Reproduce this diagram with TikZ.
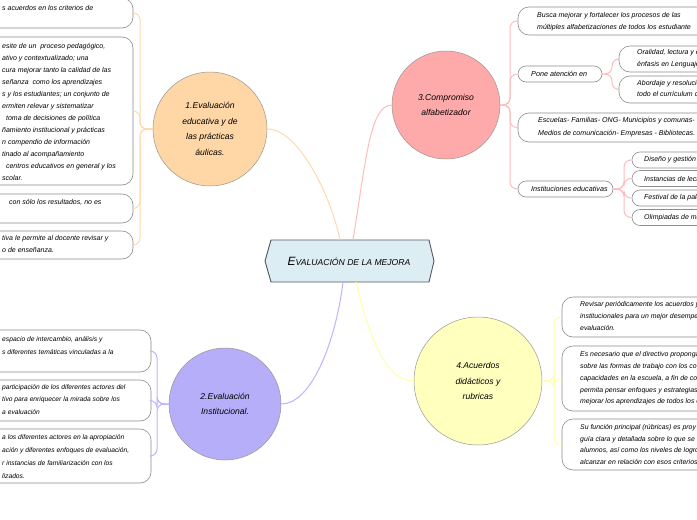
\documentclass[tikz,border=0pt]{standalone}
\usepackage{fontspec}
\setmainfont{Liberation Sans}
\definecolor{boxgray}{HTML}{8C8C8C}
\definecolor{circgray}{HTML}{9A9490}
\definecolor{orfill}{HTML}{FFD7A6}
\definecolor{orline}{HTML}{FFD9AE}
\definecolor{pkfill}{HTML}{FFAAAA}
\definecolor{pkline}{HTML}{FFBCBC}
\definecolor{pufill}{HTML}{B6AEF8}
\definecolor{puline}{HTML}{BDB4FF}
\definecolor{yefill}{HTML}{FFFFBE}
\definecolor{yeline}{HTML}{FFFFA6}
\definecolor{hexfill}{HTML}{DDEDF4}
\definecolor{hexline}{HTML}{555A5C}
\newcommand{\fs}[2]{\fontsize{#1}{#2}\selectfont\itshape}
\begin{document}
\begin{tikzpicture}[x=1pt,y=-1pt,
  box/.style={draw=boxgray, fill=white, rounded corners=11pt, line width=0.6pt, inner sep=0},
  txt/.style={anchor=west, align=left, inner sep=0, font=\fs{7}{12}},
  circ/.style={circle, draw=circgray, line width=0.5pt, inner sep=0, align=center, font=\fs{8.6}{15.5}},
  orl/.style={draw=orline, line width=1pt, rounded corners=7pt},
  pkl/.style={draw=pkline, line width=1pt, rounded corners=7pt},
  pul/.style={draw=puline, line width=1pt, rounded corners=7pt},
  yel/.style={draw=yeline, line width=1pt, rounded corners=7pt}]
\useasboundingbox (0,0) rectangle (697,520);
\clip (0,0) rectangle (697,520);
\fill[white] (0,0) rectangle (697,520);

% central hexagon
\draw[fill=hexfill, draw=hexline, line width=0.9pt]
  (265,261) -- (271,240) -- (429,240) -- (434,261) -- (429,282) -- (271,282) -- cycle;
\node[inner sep=0] (c) at (349,261) {\fs{12}{14}E\fs{8.6}{14}VALUACIÓN DE LA MEJORA};
\coordinate (cTo) at (340,240);
\coordinate (cTp) at (353,240);
\coordinate (cBp) at (343,282);
\coordinate (cBy) at (356,282);

% circles
\node[circ, fill=orfill, minimum size=114] (c1) at (210,129) {1.Evaluación\\educativa y de\\las prácticas\\áulicas.};
\node[circ, fill=pkfill, minimum size=108] (c3) at (446,105) {3.Compromiso\\alfabetizador};
\node[circ, fill=pufill, minimum size=112] (c2) at (225,404) {2.Evaluación\\Institucional.};
\node[circ, fill=yefill, minimum size=128] (c4) at (478,381) {4.Acuerdos\\didácticos y\\rubricas};

% main connectors
\draw[orl] (c1.east) .. controls (300,129) and (332,200) .. (cTo);
\draw[pkl] (cTp) .. controls (366,160) and (370,105) .. (c3.west);
\draw[pul] (cBp) .. controls (336,340) and (312,404) .. (c2.east);
\draw[yel] (cBy) .. controls (370,340) and (386,381) .. (c4.west);

% ===== orange children (left) =====
\node[box, minimum width=153, minimum height=30] (a1) at (56.5,13) {};
\node[box, minimum width=153, minimum height=148] (a2) at (56.5,111) {};
\node[box, minimum width=153, minimum height=29] (a3) at (56.5,208.5) {};
\node[box, minimum width=153, minimum height=28] (a4) at (56.5,245) {};
\node[txt] (ta1) at (2,8) {s acuerdos en los criterios de};
\node[txt] (ta2) at (2,112) {esite de un \ proceso pedagógico,\\ativo y contextualizado; una\\cura mejorar tanto la calidad de las\\señanza \ como los aprendizajes\\s y los estudiantes; un conjunto de\\ermiten relevar y sistematizar\\\ \ toma de decisiones de política\\ñamiento institucional y prácticas\\n compendio de información\\tinado al acompañamiento\\\ \ centros educativos en general y los\\scolar.};
\node[txt] (ta3) at (9,202) {con sólo los resultados, no es};
\node[txt] (ta4) at (2,244) {tiva le permite al docente revisar y\\o de enseñanza.};
\foreach \b in {a1,a2,a3,a4}{
  \draw[orl] (c1.west) -- (140,129) |- (\b.east);
}

% ===== purple children (left) =====
\node[box, minimum width=171, minimum height=42] (b1) at (65.5,351) {};
\node[box, minimum width=171, minimum height=41] (b2) at (65.5,400.5) {};
\node[box, minimum width=171, minimum height=54] (b3) at (65.5,456) {};
\node[txt, font=\fs{6.7}{12.5}] (tb1) at (2,345.5) {espacio de intercambio, análisis y\\s diferentes temáticas vinculadas a la};
\node[txt, font=\fs{6.7}{12.5}] (tb2) at (2,399.5) {participación de los diferentes actores del\\tivo para enriquecer la mirada sobre los\\a evaluación};
\node[txt, font=\fs{6.7}{12.8}] (tb3) at (2,456.5) {a los diferentes actores en la apropiación\\ación y diferentes enfoques de evaluación,\\r instancias de familiarización con los\\lizados.};
\foreach \b in {b1,b2,b3}{
  \draw[pul] (c2.west) -- (157,404) |- (\b.east);
}

% ===== pink children (right) =====
\node[box, minimum width=202, minimum height=28] (p1) at (619,21) {};
\node[box, minimum width=84, minimum height=16, rounded corners=8pt] (p2) at (560,74) {};
\node[box, minimum width=202, minimum height=29] (p3) at (619,127.5) {};
\node[box, minimum width=95, minimum height=16, rounded corners=8pt] (p4) at (565.5,189) {};
\node[txt, font=\fs{7}{12.5}] (tp1) at (537,21.5) {Busca mejorar y fortalecer los procesos de las\\múltiples alfabetizaciones de todos los estudiante};
\node[txt, font=\fs{7.2}{12}] (tp2) at (531,74) {Pone atención en};
\node[txt, font=\fs{7.1}{12.5}] (tp3) at (538,127) {Escuelas- Familias- ONG- Municipios y comunas-\\Medios de comunicación- Empresas - Bibliotecas.};
\node[txt, font=\fs{7.2}{12}] (tp4) at (531,189) {Instituciones educativas};
\foreach \b in {p1,p2,p3,p4}{
  \draw[pkl] (c3.east) -- (510,105) |- (\b.west);
}
% Pone atención en -> children
\node[box, minimum width=101, minimum height=26] (q1) at (669.5,59) {};
\node[box, minimum width=101, minimum height=27] (q2) at (669.5,89.5) {};
\node[txt, font=\fs{7}{11.5}] (tq1) at (637,58.5) {Oralidad, lectura y e\\énfasis en Lenguaje};
\node[txt, font=\fs{7}{11.5}] (tq2) at (637,88.5) {Abordaje y resolució\\todo el currículum c};
\foreach \b in {q1,q2}{
  \draw[pkl] (p2.east) -- (612,74) |- (\b.west);
}
% Instituciones educativas -> children
\node[box, minimum width=88, minimum height=16, rounded corners=8pt] (r1) at (676,160) {};
\node[box, minimum width=88, minimum height=16, rounded corners=8pt] (r2) at (676,178.5) {};
\node[box, minimum width=88, minimum height=16, rounded corners=8pt] (r3) at (676,198) {};
\node[box, minimum width=88, minimum height=16, rounded corners=8pt] (r4) at (676,217.5) {};
\node[txt, font=\fs{7}{12}] (tr1) at (644,160) {Diseño y gestión d};
\node[txt, font=\fs{7}{12}] (tr2) at (644,178.5) {Instancias de lectu};
\node[txt, font=\fs{7}{12}] (tr3) at (644,198) {Festival de la pala};
\node[txt, font=\fs{7}{12}] (tr4) at (644,217.5) {Olimpiadas de ma};
\foreach \b in {r1,r2,r3,r4}{
  \draw[pkl] (p4.east) -- (624,189) |- (\b.west);
}

% ===== yellow children (right) =====
\node[box, minimum width=158, minimum height=40] (y1) at (641,317) {};
\node[box, minimum width=158, minimum height=65] (y2) at (641,378.5) {};
\node[box, minimum width=158, minimum height=51] (y3) at (641,444.5) {};
\node[txt, font=\fs{6.9}{12.2}] (ty1) at (580,316) {Revisar periódicamente los acuerdos y\\institucionales para un mejor desempe\\evaluación.};
\node[txt, font=\fs{6.9}{11.8}] (ty2) at (580,378.5) {Es necesario que el directivo propongan\\sobre las formas de trabajo con los co\\capacidades en la escuela, a fin de con\\permita pensar enfoques y estrategias\\mejorar los aprendizajes de todos los e};
\node[txt, font=\fs{6.9}{11.8}] (ty3) at (580,444.5) {Su función principal (rúbricas) es proy\\guía clara y detallada sobre lo que se\\alumnos, así como los niveles de logro\\alcanzar en relación con esos criterios};
\foreach \b in {y1,y2,y3}{
  \draw[yel] (c4.east) -- (554,381) |- (\b.west);
}
\end{tikzpicture}
\end{document}
